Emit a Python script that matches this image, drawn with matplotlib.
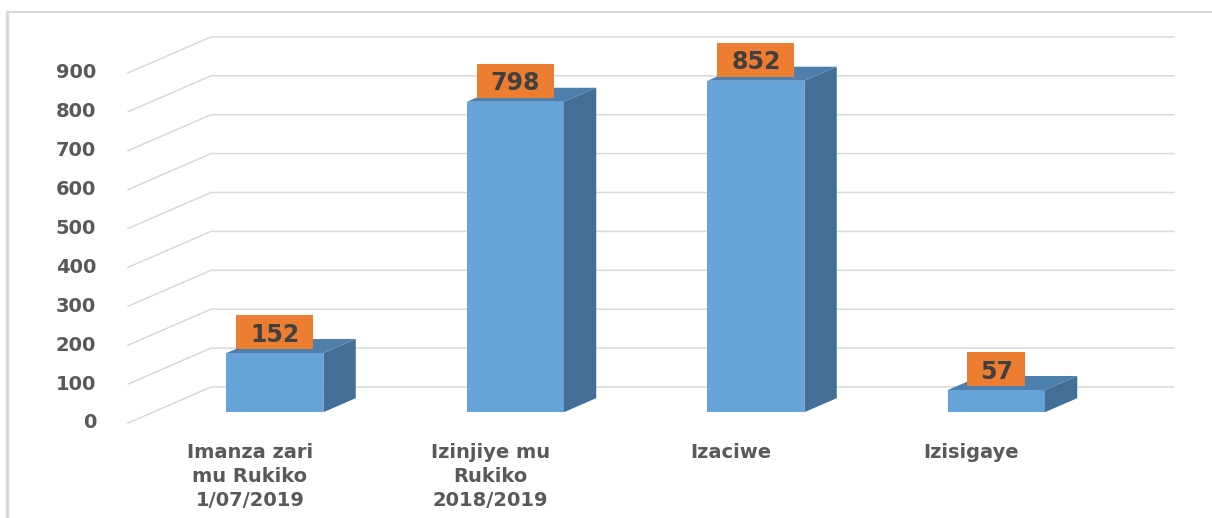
import numpy as np
import matplotlib.pyplot as plt
from matplotlib.patches import Polygon, Rectangle

categories = ["Imanza zari\nmu Rukiko\n1/07/2019",
              "Izinjiye mu\nRukiko\n2018/2019",
              "Izaciwe",
              "Izisigaye"]
values = [152, 798, 852, 57]
ticks = [0, 100, 200, 300, 400, 500, 600, 700, 800, 900]

FRONT = "#66A3D9"
SIDE = "#436F96"
TOP = "#4E80AE"
ORANGE = "#ED7D31"
GRID = "#D9D9D9"
TXT = "#595959"

W, H = 1212, 518
fig = plt.figure(figsize=(W / 100, H / 100), dpi=100)
ax = fig.add_axes([0, 0, 1, 1])

# pixel layout -> data scale
px_per_cat = 240.5
px_per_val = 0.389
x0_px, y0_px = 250, 423
ax.set_xlim(-x0_px / px_per_cat, (W - x0_px) / px_per_cat)
ax.set_ylim((y0_px - H) / px_per_val, y0_px / px_per_val)
ax.axis("off")

# depth of the 3D box (in data units)
dx = 83 / px_per_cat
dy = 36 / px_per_val
d0, d1 = 0.30, 0.69
half = 48.5 / px_per_cat
left_front = (128 - x0_px) / px_per_cat
right_back = (1174 - x0_px) / px_per_cat

for t in ticks:
    ax.plot([left_front, left_front + dx, right_back], [t, t + dy, t + dy],
            color=GRID, lw=1.1, zorder=1)
    ax.text(left_front - 32 / px_per_cat, t, str(t), ha="right", va="center",
            fontsize=14, fontweight="bold", color=TXT)

for i, (cat, v) in enumerate(zip(categories, values)):
    ox, oy = dx * d0, dy * d0
    bx, by = dx * (d1 - d0), dy * (d1 - d0)
    xl, xr = i - half + ox, i + half + ox
    yb, yt = oy, v + oy
    ax.add_patch(Polygon([(xl, yb), (xr, yb), (xr, yt), (xl, yt)],
                         closed=True, fc=FRONT, ec="none", zorder=3))
    ax.add_patch(Polygon([(xr, yb), (xr + bx, yb + by), (xr + bx, yt + by), (xr, yt)],
                         closed=True, fc=SIDE, ec="none", zorder=3))
    ax.add_patch(Polygon([(xl, yt), (xr, yt), (xr + bx, yt + by), (xl + bx, yt + by)],
                         closed=True, fc=TOP, ec="none", zorder=3))
    # orange label box
    lbl = str(v)
    bw = (len(lbl) * 19 + 20) / px_per_cat
    bh = 34 / px_per_val
    cy = yt + 54
    ax.add_patch(Rectangle((i + ox - bw / 2, cy - bh / 2), bw, bh,
                           fc=ORANGE, ec="none", zorder=4))
    ax.text(i + ox, cy, lbl, ha="center", va="center_baseline",
            fontsize=17, fontweight="bold", color="#404040", zorder=5)
    ax.text(i, -52, cat, ha="center", va="top", fontsize=14,
            fontweight="bold", color=TXT, linespacing=1.32)

# outer frame lines
fig.add_artist(plt.Line2D([7 / W, 7 / W], [0, 1 - 12 / H], color="#D9D9D9", lw=2.5))
fig.add_artist(plt.Line2D([7 / W, 1], [1 - 12 / H, 1 - 12 / H], color="#D9D9D9", lw=1.5))

fig.savefig("out.png", dpi=100)
